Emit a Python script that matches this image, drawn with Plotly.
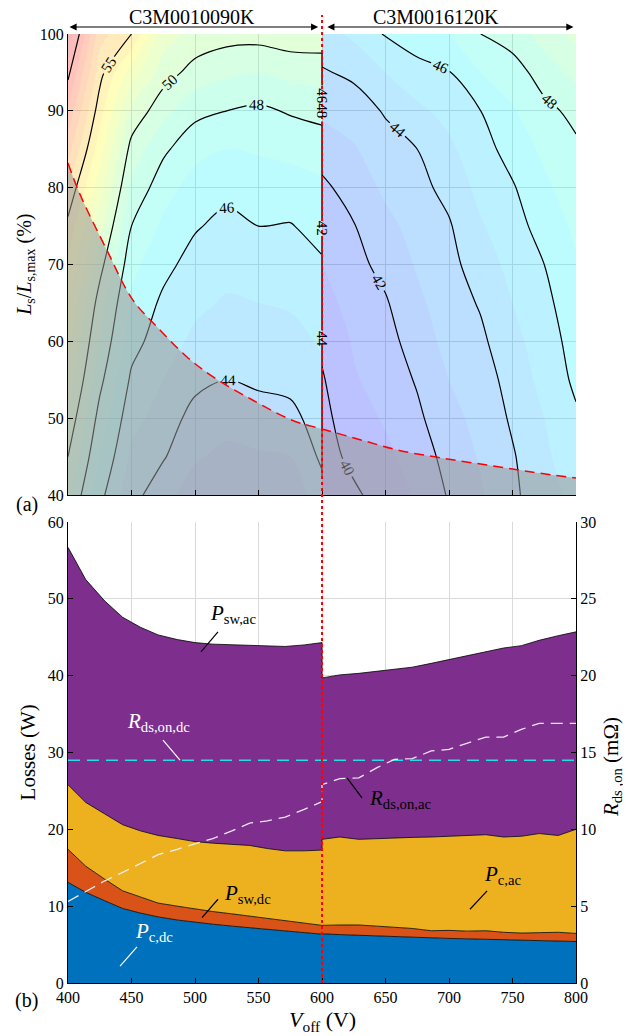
import numpy as np
import plotly.graph_objects as go

# ---------------- top panel data (contour map, total losses in W) ----------------
V_grid_left = [400, 425, 450, 475, 500, 525, 550, 575, 600]
V_grid_right = [600, 625, 650, 675, 700, 725, 750, 775, 800]
L_grid = [40, 45, 50, 55, 60, 65, 70, 75, 80, 85, 90, 95, 100]

# one list per V column (values along L_grid)
loss_cols_left = [
    [49.2, 50.0, 50.8, 51.6, 52.3, 53.1, 53.9, 54.7, 55.9, 57.4, 58.8, 60.3, 62.0],
    [46.3, 47.0, 47.6, 48.3, 48.9, 49.5, 50.4, 51.4, 52.4, 53.4, 54.4, 55.4, 56.4],
    [44.4, 44.8, 45.3, 45.8, 46.4, 46.8, 47.3, 48.0, 48.8, 49.6, 50.8, 52.5, 55.0],
    [43.3, 44.1, 44.6, 45.0, 45.4, 45.8, 46.3, 46.8, 47.4, 48.2, 49.3, 50.5, 51.5],
    [42.6, 43.1, 43.6, 44.3, 44.8, 45.2, 45.6, 46.1, 46.6, 47.3, 48.3, 49.6, 50.7],
    [42.3, 42.8, 43.3, 44.0, 44.5, 44.9, 45.3, 45.7, 46.3, 47.0, 48.0, 49.2, 50.4],
    [42.4, 42.9, 43.5, 44.2, 44.6, 45.0, 45.4, 46.0, 46.5, 47.1, 47.8, 49.0, 50.4],
    [42.4, 43.0, 43.7, 44.3, 44.7, 45.1, 45.5, 45.95, 46.5, 47.3, 48.1, 49.3, 50.6],
    [43.6, 44.2, 44.5, 44.8, 45.1, 45.4, 45.9, 46.3, 46.8, 47.5, 48.3, 49.4, 50.6],
]
loss_cols_right = [
    [39.3, 39.5, 39.7, 39.9, 40.2, 40.6, 41.0, 41.4, 41.8, 42.4, 43.2, 43.9, 44.6],
    [39.8, 40.3, 40.6, 40.9, 41.1, 41.4, 41.7, 41.95, 42.4, 42.9, 43.5, 44.2, 45.2],
    [40.5, 40.8, 41.1, 41.4, 41.6, 41.9, 42.3, 42.7, 43.2, 43.6, 44.1, 45.0, 46.1],
    [41.1, 41.4, 41.8, 42.1, 42.5, 42.8, 43.1, 43.4, 43.7, 44.0, 44.8, 45.6, 46.6],
    [42.1, 42.4, 42.7, 43.0, 43.3, 43.5, 43.7, 43.9, 44.3, 44.8, 45.3, 45.95, 47.0],
    [42.9, 43.1, 43.3, 43.5, 43.8, 44.1, 44.5, 44.9, 45.3, 45.6, 46.0, 47.0, 48.0],
    [43.8, 43.9, 44.15, 44.4, 44.7, 45.0, 45.3, 45.6, 45.9, 46.4, 46.9, 47.5, 48.5],
    [44.6, 44.8, 45.0, 45.3, 45.5, 45.7, 46.0, 46.4, 46.8, 47.2, 47.7, 48.5, 49.4],
    [45.3, 45.6, 45.85, 46.2, 46.4, 46.7, 46.9, 47.2, 47.5, 47.8, 48.3, 49.3, 50.3],
]

# red dashed limit curve
limit_V = [400, 409, 430.5, 451, 470, 493.5, 514, 546, 577, 600, 630, 661, 695, 730, 765, 800]
limit_L = [83.2, 79.3, 71.9, 65.4, 61.9, 58.0, 55.4, 52.3, 49.7, 48.6, 47.2, 45.8, 44.8, 43.9, 43.0, 42.2]

# contour pile-up on the V = 600 boundary
boundary_seg_L = [97.7, 93.3, None, 88.6, 76.0, None, 73.6, 61.4, None, 59.3, 42.3]
boundary_labels = ["4648", "42", "44"]
boundary_label_L = [91.0, 74.8, 60.3]

device_names = ["C3M0010090K", "C3M0016120K"]
device_spans = [(400, 597), (603, 798)]
device_label_V = [498, 690]

# ---------------- bottom panel data ----------------
V_left = [400, 414, 429, 443, 457, 471, 486, 500, 514, 529, 543, 557, 571, 586, 600]
V_right = [600, 614, 629, 643, 657, 671, 686, 700, 714, 729, 743, 757, 771, 786, 800]

P_c_dc_left = [13.1, 11.8, 10.7, 9.7, 9.1, 8.6, 8.2, 7.9, 7.65, 7.4, 7.2, 7.0, 6.75, 6.55, 6.35]
P_c_dc_right = [6.4, 6.3, 6.2, 6.1, 6.0, 5.95, 5.85, 5.8, 5.75, 5.7, 5.6, 5.55, 5.5, 5.45, 5.4]
P_sw_dc_left = [4.3, 3.4, 2.8, 2.3, 2.1, 1.8, 1.8, 1.7, 1.65, 1.6, 1.5, 1.4, 1.35, 1.25, 1.2]
P_sw_dc_right = [1.1, 1.25, 1.35, 1.3, 1.25, 1.15, 0.95, 1.05, 1.0, 1.1, 1.0, 0.95, 1.05, 1.15, 1.05]
P_c_ac_left = [8.4, 8.3, 8.5, 8.6, 8.6, 8.8, 8.8, 8.8, 8.9, 9.0, 9.2, 9.1, 9.1, 9.4, 9.75]
P_c_ac_right = [11.2, 11.45, 11.15, 11.4, 11.65, 11.85, 12.2, 12.25, 12.5, 12.5, 12.4, 12.6, 12.9, 12.6, 13.55]
P_sw_ac_left = [30.9, 29.0, 27.7, 27.0, 26.5, 26.1, 25.9, 25.9, 25.9, 26.0, 26.1, 26.4, 26.6, 26.8, 27.0]
P_sw_ac_right = [21.0, 21.1, 21.6, 21.75, 21.9, 22.15, 22.6, 23.0, 23.35, 23.9, 24.6, 24.8, 25.15, 26.0, 25.7]

R_ds_on_dc = 14.5
R_ds_on_ac_left = [5.3, 5.95, 6.65, 7.2, 7.8, 8.35, 8.7, 9.05, 9.4, 9.9, 10.4, 10.55, 10.8, 11.3, 11.8]
R_ds_on_ac_right = [12.9, 13.3, 13.35, 14.0, 14.55, 14.6, 15.1, 15.2, 15.6, 16.0, 16.0, 16.5, 16.9, 16.9, 16.9]

# label texts and leader lines (V, W)
labels = [
    ("<i>P</i><sub>sw,ac</sub>", 510.2, 48.0, "black"),
    ("<i>R</i><sub>ds,on,dc</sub>", 444.9, 34.0, "white"),
    ("<i>R</i><sub>ds,on,ac</sub>", 635.4, 24.0, "black"),
    ("<i>P</i><sub>c,ac</sub>", 726.0, 14.1, "black"),
    ("<i>P</i><sub>sw,dc</sub>", 521.3, 11.6, "black"),
    ("<i>P</i><sub>c,dc</sub>", 451.2, 6.6, "white"),
]
leaders = [
    (518.1, 45.7, 504.7, 43.1, "black"),
    (474.8, 31.6, 488.2, 29.0, "white"),
    (619.7, 26.7, 631.5, 24.1, "black"),
    (730.0, 12.0, 716.5, 9.6, "black"),
    (518.1, 10.9, 505.5, 8.5, "black"),
    (454.3, 4.7, 441.0, 2.2, "white"),
]

FONT = "Liberation Serif"
jet = [[0, "rgb(0,0,128)"], [0.125, "rgb(0,0,255)"], [0.375, "rgb(0,255,255)"],
       [0.625, "rgb(255,255,0)"], [0.875, "rgb(255,0,0)"], [1, "rgb(128,0,0)"]]
ZMIN, ZMAX = 36.6, 64.6

Z_left = np.array(loss_cols_left).T
Z_right = np.array(loss_cols_right).T

fig = go.Figure()

# filled background
for Vg, Z in ((V_grid_left, Z_left), (V_grid_right, Z_right)):
    fig.add_trace(go.Contour(
        x=Vg, y=L_grid, z=Z, xaxis="x", yaxis="y",
        colorscale=jet, zmin=ZMIN, zmax=ZMAX, zauto=False,
        contours=dict(coloring="fill", start=36, end=65, size=1),
        line=dict(width=0, color="rgba(0,0,0,0)"),
        opacity=0.26, showscale=False, hoverinfo="skip"))

# contour lines with labels
line_sets = [
    (V_grid_left, Z_left, 44, 50, 2),
    (V_grid_left, Z_left, 55, 60, 5),
    (V_grid_right, Z_right, 40, 48, 2),
]
for Vg, Z, s, e, d in line_sets:
    fig.add_trace(go.Contour(
        x=Vg, y=L_grid, z=Z, xaxis="x", yaxis="y",
        contours=dict(coloring="none", start=s, end=e, size=d, showlabels=True,
                      labelfont=dict(family=FONT, size=15, color="black")),
        line=dict(width=1.2, color="black", smoothing=0.9),
        showscale=False, hoverinfo="skip"))

# boundary pile-up line at V=600
fig.add_trace(go.Scatter(x=[600 if v is not None else None for v in boundary_seg_L], y=boundary_seg_L,
                         mode="lines", line=dict(color="black", width=1.3),
                         xaxis="x", yaxis="y", hoverinfo="skip", showlegend=False))

# grey shaded region under the limit curve
fig.add_trace(go.Scatter(x=limit_V, y=limit_L, mode="lines", fill="tozeroy",
                         fillcolor="rgba(150,150,150,0.55)", line=dict(width=0, shape="spline"),
                         xaxis="x", yaxis="y", hoverinfo="skip", showlegend=False))
fig.add_trace(go.Scatter(x=limit_V, y=limit_L, mode="lines",
                         line=dict(color="red", width=1.5, dash="10px,6px", shape="spline"),
                         xaxis="x", yaxis="y", hoverinfo="skip", showlegend=False))

# ---------------- bottom panel ----------------
V_all = V_left + V_right
layers = [
    (P_c_dc_left + P_c_dc_right, "#0072BD"),
    (P_sw_dc_left + P_sw_dc_right, "#D95319"),
    (P_c_ac_left + P_c_ac_right, "#EDB120"),
    (P_sw_ac_left + P_sw_ac_right, "#7E2F8E"),
]
cum = np.zeros(len(V_all))
for i, (vals, col) in enumerate(layers):
    cum = cum + np.array(vals)
    fig.add_trace(go.Scatter(x=V_all, y=cum.copy(), mode="lines",
                             fill="tozeroy" if i == 0 else "tonexty", fillcolor=col,
                             line=dict(color="black", width=0.8),
                             xaxis="x2", yaxis="y2", hoverinfo="skip", showlegend=False))

fig.add_trace(go.Scatter(x=[400, 800], y=[R_ds_on_dc, R_ds_on_dc], mode="lines",
                         line=dict(color="#1ee0e6", width=1.6, dash="12px,7px"),
                         xaxis="x2", yaxis="y3", hoverinfo="skip", showlegend=False))
fig.add_trace(go.Scatter(x=V_all, y=R_ds_on_ac_left + R_ds_on_ac_right, mode="lines",
                         line=dict(color="rgba(245,240,250,0.95)", width=1.3, dash="12px,7px"),
                         xaxis="x2", yaxis="y3", hoverinfo="skip", showlegend=False))

shapes = []
for x0, y0, x1, y1, col in leaders:
    shapes.append(dict(type="line", xref="x2", yref="y2", x0=x0, y0=y0, x1=x1, y1=y1,
                       line=dict(color=col, width=1.2), layer="above"))
shapes.append(dict(type="line", xref="x2", yref="paper", x0=600, x1=600, y0=0, y1=1.02,
                   line=dict(color="red", width=2, dash="dot"), layer="above"))

annotations = []
for txt, x, y, col in labels:
    annotations.append(dict(text=txt, x=x, y=y, xref="x2", yref="y2", xanchor="left",
                            yanchor="middle", showarrow=False,
                            font=dict(family=FONT, size=21, color=col)))
for txt, L in zip(boundary_labels, boundary_label_L):
    annotations.append(dict(text=txt, x=600, y=L, xref="x", yref="y", textangle=90,
                            xanchor="center", yanchor="middle",
                            showarrow=False, font=dict(family=FONT, size=15, color="black")))
ARROW_Y = 1.0074  # paper fraction of the span arrows
for name, (a, b), xv in zip(device_names, device_spans, device_label_V):
    annotations.append(dict(text="", x=b, y=ARROW_Y, ax=a, ay=0, xref="x", yref="paper",
                            axref="x", ayref="pixel", showarrow=True, arrowside="end+start",
                            arrowhead=2, arrowsize=1.3, arrowwidth=1.1, arrowcolor="black",
                            standoff=0, startstandoff=0))
    annotations.append(dict(text=name, x=xv, y=1.0175, xref="x", yref="paper",
                            showarrow=False, xanchor="center", yanchor="middle",
                            font=dict(family=FONT, size=20, color="black")))

def paper_text(text, x, y, size, angle=0):
    return dict(text=text, x=x, y=y, xref="paper", yref="paper", textangle=angle,
                xanchor="center", yanchor="middle", showarrow=False,
                font=dict(family=FONT, size=size, color="black"))

annotations += [
    paper_text("(a)", -0.081, 0.5037, 20),
    paper_text("(b)", -0.081, -0.018, 20),
    paper_text("<i>V</i><sub>off</sub> (V)", 0.5, -0.040, 22),
    paper_text("<i>L</i><sub>s</sub>/<i>L</i><sub>s,max</sub> (%)", -0.083, 0.7566, 20, -90),
    paper_text("Losses (W)", -0.078, 0.2434, 21, -90),
    paper_text("<i>R</i><sub>ds ,on</sub> (mΩ)", 1.071, 0.2276, 21, -90),
]

axis_common = dict(showgrid=True, gridcolor="#dadada", gridwidth=1, zeroline=False,
                   ticks="inside", ticklen=5, tickcolor="black", showline=True,
                   linecolor="black", linewidth=1,
                   tickfont=dict(family=FONT, size=16, color="black"))

# the page adds an 8 px body margin, so the margins are reduced by 8 px
fig.update_layout(
    width=631, height=1036,
    margin=dict(l=60, r=63, t=26, b=61, autoexpand=False),
    paper_bgcolor="white", plot_bgcolor="white",
    showlegend=False,
    xaxis=dict(domain=[0, 1], anchor="y", range=[400, 800], tickvals=list(range(400, 801, 50)),
               showticklabels=False, **axis_common),
    yaxis=dict(domain=[0.5142, 1], anchor="x", range=[40, 100], tickvals=list(range(40, 101, 10)),
               **axis_common),
    xaxis2=dict(domain=[0, 1], anchor="y2", range=[400, 800], tickvals=list(range(400, 801, 50)),
                **axis_common),
    yaxis2=dict(domain=[0, 0.4858], anchor="x2", range=[0, 60], tickvals=list(range(0, 61, 10)),
                **axis_common),
    yaxis3=dict(overlaying="y2", anchor="x2", side="right", range=[0, 30],
                tickvals=list(range(0, 31, 5)), showgrid=False, zeroline=False,
                ticks="inside", ticklen=5, tickcolor="black", showline=True, linecolor="black",
                tickfont=dict(family=FONT, size=16, color="black")),
    shapes=shapes,
    annotations=annotations,
)

fig.write_html("out.html")
